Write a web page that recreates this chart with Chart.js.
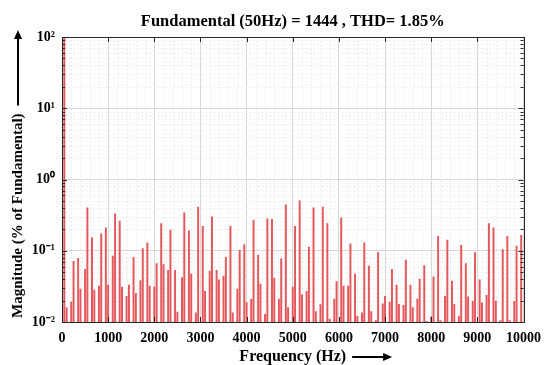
<!DOCTYPE html>
<html>
<head>
<meta charset="utf-8">
<script src="https://cdn.jsdelivr.net/npm/chart.js@4"></script>
<style>
  body { margin: 0; background: #fff; }
</style>
</head>
<body>
<canvas id="fftChart" width="549" height="365"></canvas>
<script>
// harmonic frequencies (Hz) and their magnitude in % of the fundamental
const freqHz = [
  50, 100, 200, 250, 350, 400, 500, 550, 650, 700, 800, 850, 950, 1000, 1100, 1150,
  1250, 1300, 1400, 1450, 1550, 1600, 1700, 1750, 1850, 1900, 2000, 2050, 2150, 2200,
  2300, 2350, 2450, 2500, 2600, 2650, 2750, 2800, 2900, 2950, 3050, 3100, 3200, 3250,
  3350, 3400, 3500, 3550, 3650, 3700, 3800, 3850, 3950, 4000, 4100, 4150, 4250, 4300,
  4400, 4450, 4550, 4600, 4700, 4750, 4850, 4900, 5000, 5050, 5150, 5200, 5300, 5350,
  5450, 5500, 5600, 5650, 5750, 5800, 5900, 5950, 6050, 6100, 6200, 6250, 6350, 6400,
  6500, 6550, 6650, 6700, 6800, 6850, 6950, 7000, 7100, 7150, 7250, 7300, 7400, 7450,
  7550, 7600, 7700, 7750, 7850, 7900, 8000, 8050, 8150, 8200, 8300, 8350, 8450, 8500,
  8600, 8650, 8750, 8800, 8900, 8950, 9050, 9100, 9200, 9250, 9350, 9400, 9500, 9550,
  9650, 9700, 9800, 9850, 9950
];
const magPct = [
  100, 0.016, 0.019, 0.071, 0.078, 0.029, 0.055, 0.40, 0.152, 0.028, 0.032, 0.173, 0.21, 0.033, 0.084, 0.33,
  0.26, 0.031, 0.023, 0.033, 0.081, 0.025, 0.038, 0.107, 0.129, 0.032, 0.031, 0.066, 0.24, 0.064,
  0.053, 0.195, 0.053, 0.0138, 0.042, 0.34, 0.19, 0.047, 0.0135, 0.41, 0.22, 0.027, 0.052, 0.30,
  0.053, 0.039, 0.044, 0.081, 0.22, 0.0135, 0.029, 0.101, 0.122, 0.0187, 0.021, 0.27, 0.087, 0.034,
  0.0128, 0.28, 0.275, 0.041, 0.021, 0.077, 0.44, 0.016, 0.031, 0.22, 0.50, 0.024, 0.027, 0.113,
  0.40, 0.014, 0.0175, 0.41, 0.24, 0.011, 0.021, 0.037, 0.29, 0.032, 0.032, 0.125, 0.047, 0.012,
  0.0135, 0.129, 0.061, 0.014, 0.0105, 0.094, 0.018, 0.023, 0.019, 0.055, 0.033, 0.0177, 0.0172, 0.074,
  0.033, 0.016, 0.021, 0.040, 0.062, 0.0102, 0.0118, 0.043, 0.16, 0.0105, 0.023, 0.141, 0.0375, 0.0177,
  0.012, 0.119, 0.066, 0.0226, 0.0197, 0.094, 0.039, 0.0186, 0.0236, 0.24, 0.21, 0.0197, 0.0105, 0.104,
  0.16, 0.0105, 0.0195, 0.116, 0.164
];
const xTicks = [0, 1000, 2000, 3000, 4000, 5000, 6000, 7000, 8000, 9000, 10000];
const yTicks = [0.01, 0.1, 1, 10, 100];
const yTickLabels = ["10\u207B\u00B2", "10\u207B\u00B9", "10\u2070", "10\u00B9", "10\u00B2"];

const titleText = "Fundamental (50Hz) = 1444 , THD= 1.85%";
const xTitle = "Frequency (Hz)";
const yTitle = "Magnitude (% of Fundamental)";

const serif = '"Liberation Serif", "Times New Roman", serif';

function arrow(ctx, x1, y1, x2, y2) {
  const a = Math.atan2(y2 - y1, x2 - x1);
  ctx.beginPath();
  ctx.moveTo(x1, y1);
  ctx.lineTo(x2 - 6 * Math.cos(a), y2 - 6 * Math.sin(a));
  ctx.stroke();
  ctx.beginPath();
  ctx.moveTo(x2, y2);
  ctx.lineTo(x2 - 9 * Math.cos(a) + 4 * Math.sin(a), y2 - 9 * Math.sin(a) - 4 * Math.cos(a));
  ctx.lineTo(x2 - 9 * Math.cos(a) - 4 * Math.sin(a), y2 - 9 * Math.sin(a) + 4 * Math.cos(a));
  ctx.closePath();
  ctx.fill();
}

const decor = {
  id: "decor",
  beforeDatasetsDraw(chart) {
    const { ctx, chartArea: ca, scales: { x, y } } = chart;
    ctx.save();
    ctx.strokeStyle = "#e2e2e2";
    ctx.lineWidth = 1;
    ctx.setLineDash([1, 3]);
    ctx.beginPath();
    for (let f = 200; f < 10000; f += 200) {
      if (f % 1000 === 0) continue;
      const px = Math.round(x.getPixelForValue(f)) + 0.5;
      ctx.moveTo(px, ca.top);
      ctx.lineTo(px, ca.bottom);
    }
    for (let e = -2; e < 2; e++) {
      for (let k = 2; k <= 9; k++) {
        const py = Math.round(y.getPixelForValue(k * Math.pow(10, e))) + 0.5;
        ctx.moveTo(ca.left, py);
        ctx.lineTo(ca.right, py);
      }
    }
    ctx.stroke();
    ctx.restore();
  },
  afterDraw(chart) {
    const { ctx, chartArea: ca, scales: { x, y } } = chart;
    ctx.save();
    // box + inward ticks
    ctx.strokeStyle = "#262626";
    ctx.lineWidth = 1;
    ctx.strokeRect(Math.round(ca.left) + 0.5, Math.round(ca.top) + 0.5,
      Math.round(ca.right - ca.left), Math.round(ca.bottom - ca.top));
    ctx.beginPath();
    xTicks.forEach((v) => {
      const px = Math.round(x.getPixelForValue(v)) + 0.5;
      ctx.moveTo(px, ca.bottom); ctx.lineTo(px, ca.bottom - 5);
      ctx.moveTo(px, ca.top); ctx.lineTo(px, ca.top + 5);
    });
    for (let e = -2; e <= 2; e++) {
      for (let k = 1; k <= 9; k++) {
        const v = k * Math.pow(10, e);
        if (v > 100) break;
        const py = Math.round(y.getPixelForValue(v)) + 0.5;
        const len = k === 1 ? 5 : 3;
        ctx.moveTo(ca.left, py); ctx.lineTo(ca.left + len, py);
        ctx.moveTo(ca.right, py); ctx.lineTo(ca.right - len, py);
      }
    }
    ctx.stroke();

    // titles
    ctx.fillStyle = "#000";
    ctx.strokeStyle = "#000";
    ctx.textAlign = "center";
    ctx.textBaseline = "alphabetic";
    ctx.font = "bold 16.5px " + serif;
    ctx.fillText(titleText, (ca.left + ca.right) / 2, 26);

    const cx = (ca.left + ca.right) / 2;
    ctx.font = "bold 16px " + serif;
    ctx.fillText(xTitle, cx, 361);
    const wx = ctx.measureText(xTitle).width;
    ctx.lineWidth = 2;
    arrow(ctx, cx + wx / 2 + 6, 357, cx + wx / 2 + 46, 357);

    ctx.font = "bold 15px " + serif;
    const wy = ctx.measureText(yTitle).width;
    const yc = ca.bottom - 4 - wy / 2;
    ctx.save();
    ctx.translate(18, yc);
    ctx.rotate(-Math.PI / 2);
    ctx.textBaseline = "middle";
    ctx.fillText(yTitle, 0, 0);
    ctx.restore();
    arrow(ctx, 18, yc - wy / 2 - 8, 18, ca.top - 7);
    ctx.restore();
  },
};

new Chart(document.getElementById("fftChart"), {
  type: "bar",
  data: {
    datasets: [
      {
        data: freqHz.map((f, i) => ({ x: f, y: magPct[i] })),
        backgroundColor: "#e4575b",
        borderWidth: 0,
        barThickness: 1.3,
      },
    ],
  },
  options: {
    responsive: false,
    animation: false,
    layout: { padding: { top: 37, right: 19, left: 0, bottom: 0 } },
    plugins: {
      legend: { display: false },
      tooltip: { enabled: false },
    },
    scales: {
      x: {
        type: "linear",
        min: 0,
        max: 10000,
        offset: false,
        afterBuildTicks: (s) => { s.ticks = xTicks.map((v) => ({ value: v })); },
        afterFit: (s) => { s.height = 43; },
        grid: { color: "#d9d9d9", drawTicks: false, offset: false },
        border: { display: false },
        ticks: {
          color: "#000",
          padding: 8,
          maxRotation: 0,
          autoSkip: false,
          callback: (v) => String(v),
          font: { family: serif, size: 14, weight: "bold" },
        },
      },
      y: {
        type: "logarithmic",
        min: 0.01,
        max: 100,
        afterBuildTicks: (s) => { s.ticks = yTicks.map((v) => ({ value: v })); },
        afterFit: (s) => { s.width = 62; },
        grid: { color: "#d9d9d9", drawTicks: false },
        border: { display: false },
        ticks: {
          color: "#000",
          padding: 7,
          callback: (v, i) => yTickLabels[i],
          font: { family: serif, size: 14, weight: "bold" },
        },
      },
    },
  },
  plugins: [decor],
});
</script>
</body>
</html>
